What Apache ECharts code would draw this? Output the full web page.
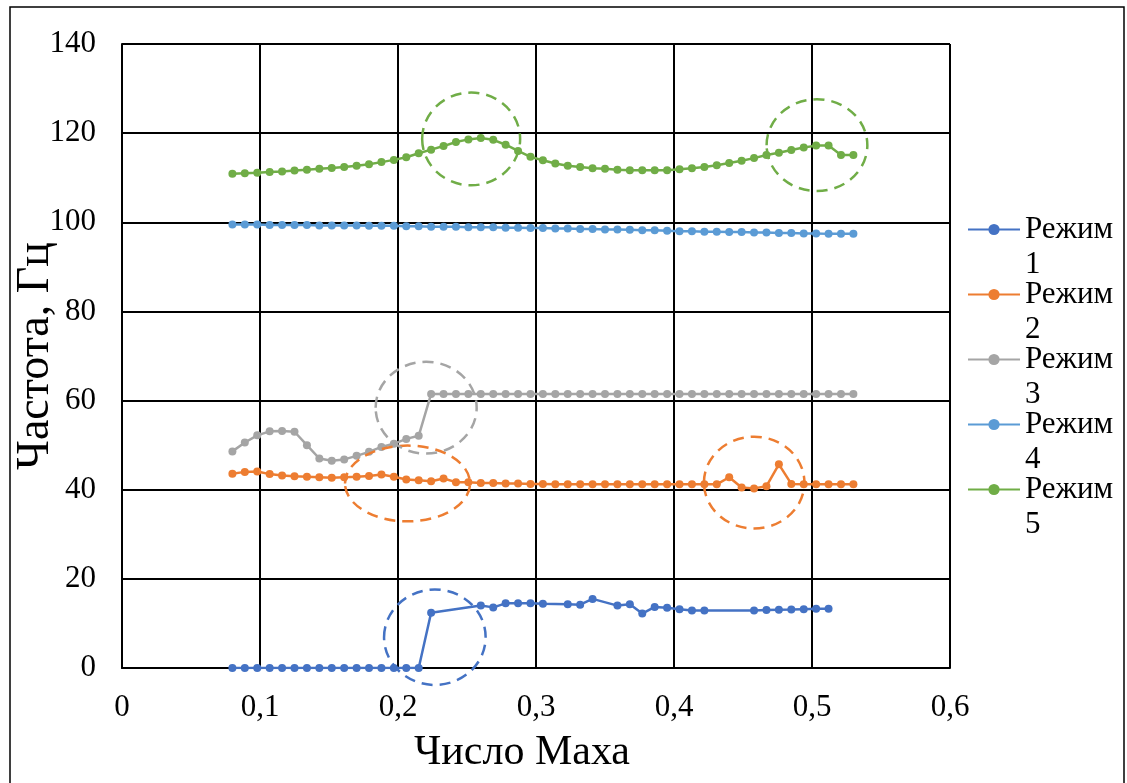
<!DOCTYPE html>
<html>
<head>
<meta charset="utf-8">
<script src="https://cdn.jsdelivr.net/npm/echarts@6/dist/echarts.min.js"></script>
<style>
  html, body { margin: 0; padding: 0; background: #fff; }
  #main { width: 1127px; height: 783px; }
</style>
</head>
<body>
<div id="main"></div>
<script>
// число Маха (общая сетка точек)
var mach = [0.08, 0.089, 0.098, 0.107, 0.116, 0.125, 0.134, 0.143, 0.152, 0.161,
  0.17, 0.179, 0.188, 0.197, 0.206, 0.215, 0.224, 0.233, 0.242, 0.251,
  0.26, 0.269, 0.278, 0.287, 0.296, 0.305, 0.314, 0.323, 0.332, 0.341,
  0.35, 0.359, 0.368, 0.377, 0.386, 0.395, 0.404, 0.413, 0.422, 0.431,
  0.44, 0.449, 0.458, 0.467, 0.476, 0.485, 0.494, 0.503, 0.512, 0.521, 0.53];

var mode1 = [0, 0, 0, 0, 0, 0, 0, 0, 0, 0, 0, 0, 0, 0, 0, 0, 12.4, null, null, null,
  14.0, 13.6, 14.5, 14.5, 14.5, 14.4, null, 14.3, 14.2, 15.5,
  null, 14.0, 14.3, 12.2, 13.7, 13.5, 13.2, 12.9, 12.9, null,
  null, null, 12.9, 13.0, 13.05, 13.1, 13.2, 13.3, 13.3, null, null];

var mode2 = [43.6, 44.0, 44.1, 43.5, 43.2, 43.0, 42.9, 42.8, 42.7, 42.8,
  42.9, 43.1, 43.4, 42.9, 42.3, 42.1, 41.9, 42.5, 41.7, 41.7,
  41.5, 41.5, 41.4, 41.4, 41.3, 41.3, 41.2, 41.2, 41.2, 41.2,
  41.2, 41.2, 41.2, 41.2, 41.2, 41.2, 41.2, 41.2, 41.2, 41.2,
  42.8, 40.5, 40.3, 40.8, 45.7, 41.3, 41.2, 41.2, 41.2, 41.2, 41.2];

var mode3 = [48.6, 50.6, 52.2, 53.1, 53.2, 53.0, 50.0, 47.0, 46.5, 46.8,
  47.6, 48.5, 49.6, 50.3, 51.4, 52.1, 61.5, 61.5, 61.5, 61.5,
  61.5, 61.5, 61.5, 61.5, 61.5, 61.5, 61.5, 61.5, 61.5, 61.5,
  61.5, 61.5, 61.5, 61.5, 61.5, 61.5, 61.5, 61.5, 61.5, 61.5,
  61.5, 61.5, 61.5, 61.5, 61.5, 61.5, 61.5, 61.5, 61.5, 61.5, 61.5];

var mode4 = [99.5, 99.5, 99.5, 99.4, 99.4, 99.4, 99.4, 99.3, 99.3, 99.3,
  99.3, 99.2, 99.2, 99.2, 99.1, 99.1, 99.0, 99.0, 99.0, 98.9,
  98.9, 98.9, 98.8, 98.8, 98.7, 98.7, 98.6, 98.6, 98.5, 98.5,
  98.4, 98.4, 98.3, 98.2, 98.2, 98.1, 98.0, 98.0, 97.9, 97.9,
  97.8, 97.8, 97.7, 97.7, 97.6, 97.6, 97.5, 97.5, 97.4, 97.4, 97.4];

var mode5 = [110.9, 111.0, 111.1, 111.3, 111.4, 111.6, 111.8, 112.0, 112.2, 112.4,
  112.7, 113.0, 113.5, 114.0, 114.6, 115.5, 116.3, 117.1, 118.0, 118.6,
  118.9, 118.5, 117.4, 116.0, 114.7, 113.9, 113.2, 112.7, 112.4, 112.1,
  112.0, 111.8, 111.7, 111.7, 111.7, 111.7, 111.9, 112.1, 112.4, 112.8,
  113.3, 113.8, 114.4, 115.1, 115.6, 116.2, 116.8, 117.2, 117.2, 115.1, 115.1];

var seriesNames = ['Режим 1', 'Режим 2', 'Режим 3', 'Режим 4', 'Режим 5'];
var colors = ['#4472C4', '#ED7D31', '#A5A5A5', '#5B9BD5', '#70AD47'];

// выделенные области: [центр по x, центр по y, полуось x, полуось y, цвет]
var marks = [
  [0.2267, 6.9, 0.0368, 10.7, 0],
  [0.2069, 41.4, 0.0453, 8.5, 1],
  [0.4581, 41.6, 0.0364, 10.3, 1],
  [0.2204, 58.4, 0.0366, 10.3, 2],
  [0.2530, 118.7, 0.0355, 10.4, 4],
  [0.5036, 117.3, 0.0365, 10.3, 4]
];

var font = '"Times New Roman", "Liberation Serif", serif';
var myChart = echarts.init(document.getElementById('main'));

var allData = [mode1, mode2, mode3, mode4, mode5];
var series = allData.map(function (vals, k) {
  return {
    name: seriesNames[k],
    type: 'line',
    data: mach.map(function (m, i) { return [m, vals[i]]; }),
    connectNulls: true,
    symbol: 'circle',
    symbolSize: 8,
    color: colors[k],
    lineStyle: { width: 2.5, color: colors[k] },
    itemStyle: { color: colors[k] },
    animation: false,
    z: 3
  };
});

var option = {
  animation: false,
  grid: { left: 122, right: 177, top: 44, bottom: 115, outerBoundsMode: 'none', containLabel: false },
  legend: {
    orient: 'vertical',
    left: 967,
    top: 179,
    padding: 0,
    itemGap: -36,
    itemWidth: 52,
    itemHeight: 14,
    formatter: function (name) {
      var p = name.split(' ');
      return '{s|}\n{t|' + p[0] + '}\n{t|' + p[1] + '}';
    },
    textStyle: {
      rich: {
        s: { fontSize: 31, lineHeight: 35, fontFamily: font },
        t: { fontSize: 31, lineHeight: 35, fontFamily: font, color: '#000' }
      }
    },
    data: seriesNames
  },
  xAxis: {
    type: 'value',
    min: 0, max: 0.6, interval: 0.1,
    name: 'Число Маха',
    nameLocation: 'middle',
    nameGap: 64,
    nameMoveOverlap: false,
    nameTextStyle: { fontSize: 42, fontFamily: font, color: '#000', padding: [0, 28, 0, 0] },
    axisLine: { show: true, onZero: false, lineStyle: { color: '#000', width: 2 } },
    axisTick: { show: false },
    axisLabel: {
      fontSize: 31, fontFamily: font, color: '#000', margin: 24,
      formatter: function (v) { return v === 0 ? '0' : v.toFixed(1).replace('.', ','); }
    },
    splitLine: { show: true, lineStyle: { color: '#000', width: 2 } }
  },
  yAxis: {
    type: 'value',
    min: 0, max: 140, interval: 20,
    name: 'Частота, Гц',
    nameLocation: 'middle',
    nameGap: 63,
    nameMoveOverlap: false,
    nameTextStyle: { fontSize: 46, fontFamily: font, color: '#000' },
    axisLine: { show: true, lineStyle: { color: '#000', width: 2 } },
    axisTick: { show: false },
    axisLabel: { fontSize: 31, fontFamily: font, color: '#000', margin: 26 },
    splitLine: { show: true, lineStyle: { color: '#000', width: 2 } }
  },
  series: series
};

myChart.setOption(option);

// пунктирные эллипсы и рамка
var graphics = [{
  type: 'rect',
  shape: { x: 10, y: 7, width: 1114, height: 800 },
  style: { fill: 'none', stroke: '#000', lineWidth: 1.5 },
  silent: true, z: 0
}];
marks.forEach(function (m) {
  var c = myChart.convertToPixel({ gridIndex: 0 }, [m[0], m[1]]);
  var e = myChart.convertToPixel({ gridIndex: 0 }, [m[0] + m[2], m[1] + m[3]]);
  graphics.push({
    type: 'ellipse',
    shape: { cx: c[0], cy: c[1], rx: Math.abs(e[0] - c[0]), ry: Math.abs(c[1] - e[1]) },
    style: { fill: 'none', stroke: colors[m[4]], lineWidth: 2.5, lineDash: [11, 7] },
    silent: true, z: 10
  });
});
myChart.setOption({ graphic: graphics });
</script>
</body>
</html>
